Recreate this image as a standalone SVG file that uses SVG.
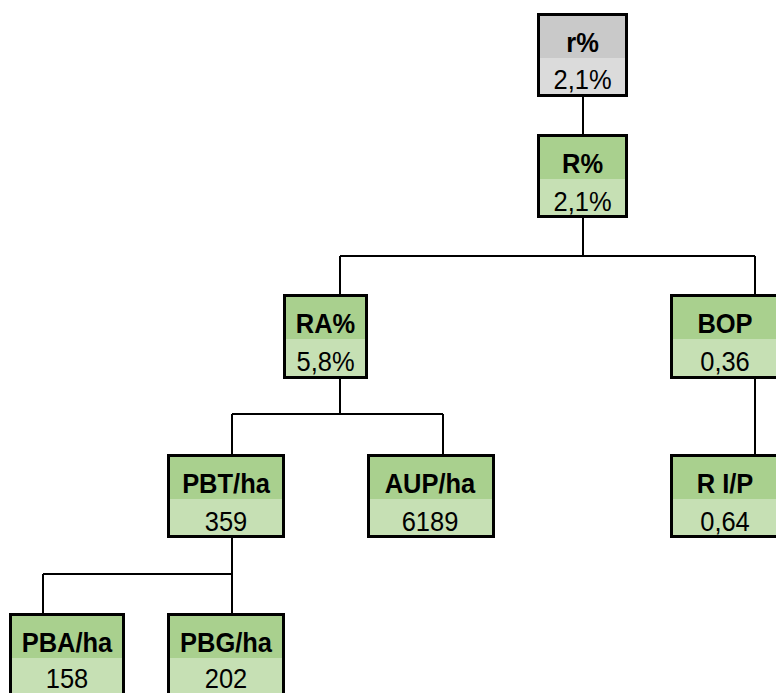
<svg xmlns="http://www.w3.org/2000/svg" width="776" height="693" viewBox="0 0 776 693">
  <style>
    .frame { fill: none; stroke: #000; stroke-width: 3; }
    .hd { fill: #A9D08E; }
    .val { fill: #C6E0B4; }
    .hd-grey { fill: #C9C9C9; }
    .val-grey { fill: #DBDBDB; }
    .lbl { font-family: "Liberation Sans", Arial, sans-serif; font-size: 28px; font-weight: bold; fill: #000; text-anchor: middle; }
    .num { font-family: "Liberation Sans", Arial, sans-serif; font-size: 28px; fill: #000; text-anchor: middle; }
    .wire { fill: none; stroke: #000; stroke-width: 2; }
  </style>
  <rect width="776" height="693" fill="#fff"/>

  <!-- connectors -->
  <g id="connectors" class="wire">
    <path d="M583 97 V134"/>
    <path d="M583 218 V256 M340 256 H755 M340 256 V294 M755 256 V294"/>
    <path d="M755 379 V454"/>
    <path d="M340 379 V414 M232 414 H443 M232 414 V454 M443 414 V454"/>
    <path d="M232 538 V574 M43 574 H232 M43 574 V613 M232 574 V613"/>
  </g>

  <!-- r% -->
  <g id="node-r">
    <rect class="hd-grey" x="537" y="13" width="91" height="45"/>
    <rect class="val-grey" x="537" y="58" width="91" height="39"/>
    <rect class="frame" x="538.5" y="14.5" width="88" height="81"/>
    <text class="lbl" transform="translate(582.5 52) scale(0.91 1)">r%</text>
    <text class="num" transform="translate(582.5 89) scale(0.91 1)">2,1%</text>
  </g>

  <!-- R% -->
  <g id="node-R">
    <rect class="hd" x="537" y="134" width="91" height="45"/>
    <rect class="val" x="537" y="179" width="91" height="39"/>
    <rect class="frame" x="538.5" y="135.5" width="88" height="81"/>
    <text class="lbl" transform="translate(582.5 173) scale(0.91 1)">R%</text>
    <text class="num" transform="translate(582.5 211) scale(0.91 1)">2,1%</text>
  </g>

  <!-- RA% -->
  <g id="node-RA">
    <rect class="hd" x="283" y="294" width="85" height="45"/>
    <rect class="val" x="283" y="339" width="85" height="40"/>
    <rect class="frame" x="284.5" y="295.5" width="82" height="82"/>
    <text class="lbl" transform="translate(325.5 333) scale(0.91 1)">RA%</text>
    <text class="num" transform="translate(325.5 371) scale(0.91 1)">5,8%</text>
  </g>

  <!-- BOP -->
  <g id="node-BOP">
    <rect class="hd" x="670" y="294" width="110" height="45"/>
    <rect class="val" x="670" y="339" width="110" height="40"/>
    <rect class="frame" x="671.5" y="295.5" width="107" height="82"/>
    <text class="lbl" transform="translate(725 333) scale(0.91 1)">BOP</text>
    <text class="num" transform="translate(725 371) scale(0.91 1)">0,36</text>
  </g>

  <!-- PBT/ha -->
  <g id="node-PBT">
    <rect class="hd" x="167" y="454" width="118" height="45"/>
    <rect class="val" x="167" y="499" width="118" height="39"/>
    <rect class="frame" x="168.5" y="455.5" width="115" height="81"/>
    <text class="lbl" transform="translate(226 493) scale(0.91 1)">PBT/ha</text>
    <text class="num" transform="translate(226 531) scale(0.91 1)">359</text>
  </g>

  <!-- AUP/ha -->
  <g id="node-AUP">
    <rect class="hd" x="367" y="454" width="128" height="45"/>
    <rect class="val" x="367" y="499" width="128" height="39"/>
    <rect class="frame" x="368.5" y="455.5" width="125" height="81"/>
    <text class="lbl" transform="translate(430 493) scale(0.91 1)">AUP/ha</text>
    <text class="num" transform="translate(430 531) scale(0.91 1)">6189</text>
  </g>

  <!-- R I/P -->
  <g id="node-RIP">
    <rect class="hd" x="670" y="454" width="110" height="45"/>
    <rect class="val" x="670" y="499" width="110" height="39"/>
    <rect class="frame" x="671.5" y="455.5" width="107" height="81"/>
    <text class="lbl" transform="translate(725 493) scale(0.91 1)">R I/P</text>
    <text class="num" transform="translate(725 531) scale(0.91 1)">0,64</text>
  </g>

  <!-- PBA/ha -->
  <g id="node-PBA">
    <rect class="hd" x="9" y="613" width="116" height="45"/>
    <rect class="val" x="9" y="658" width="116" height="39"/>
    <rect class="frame" x="10.5" y="614.5" width="113" height="81"/>
    <text class="lbl" transform="translate(67 652) scale(0.91 1)">PBA/ha</text>
    <text class="num" transform="translate(67 688) scale(0.91 1)">158</text>
  </g>

  <!-- PBG/ha -->
  <g id="node-PBG">
    <rect class="hd" x="167" y="613" width="118" height="45"/>
    <rect class="val" x="167" y="658" width="118" height="39"/>
    <rect class="frame" x="168.5" y="614.5" width="115" height="81"/>
    <text class="lbl" transform="translate(226 652) scale(0.91 1)">PBG/ha</text>
    <text class="num" transform="translate(226 688) scale(0.91 1)">202</text>
  </g>
</svg>
